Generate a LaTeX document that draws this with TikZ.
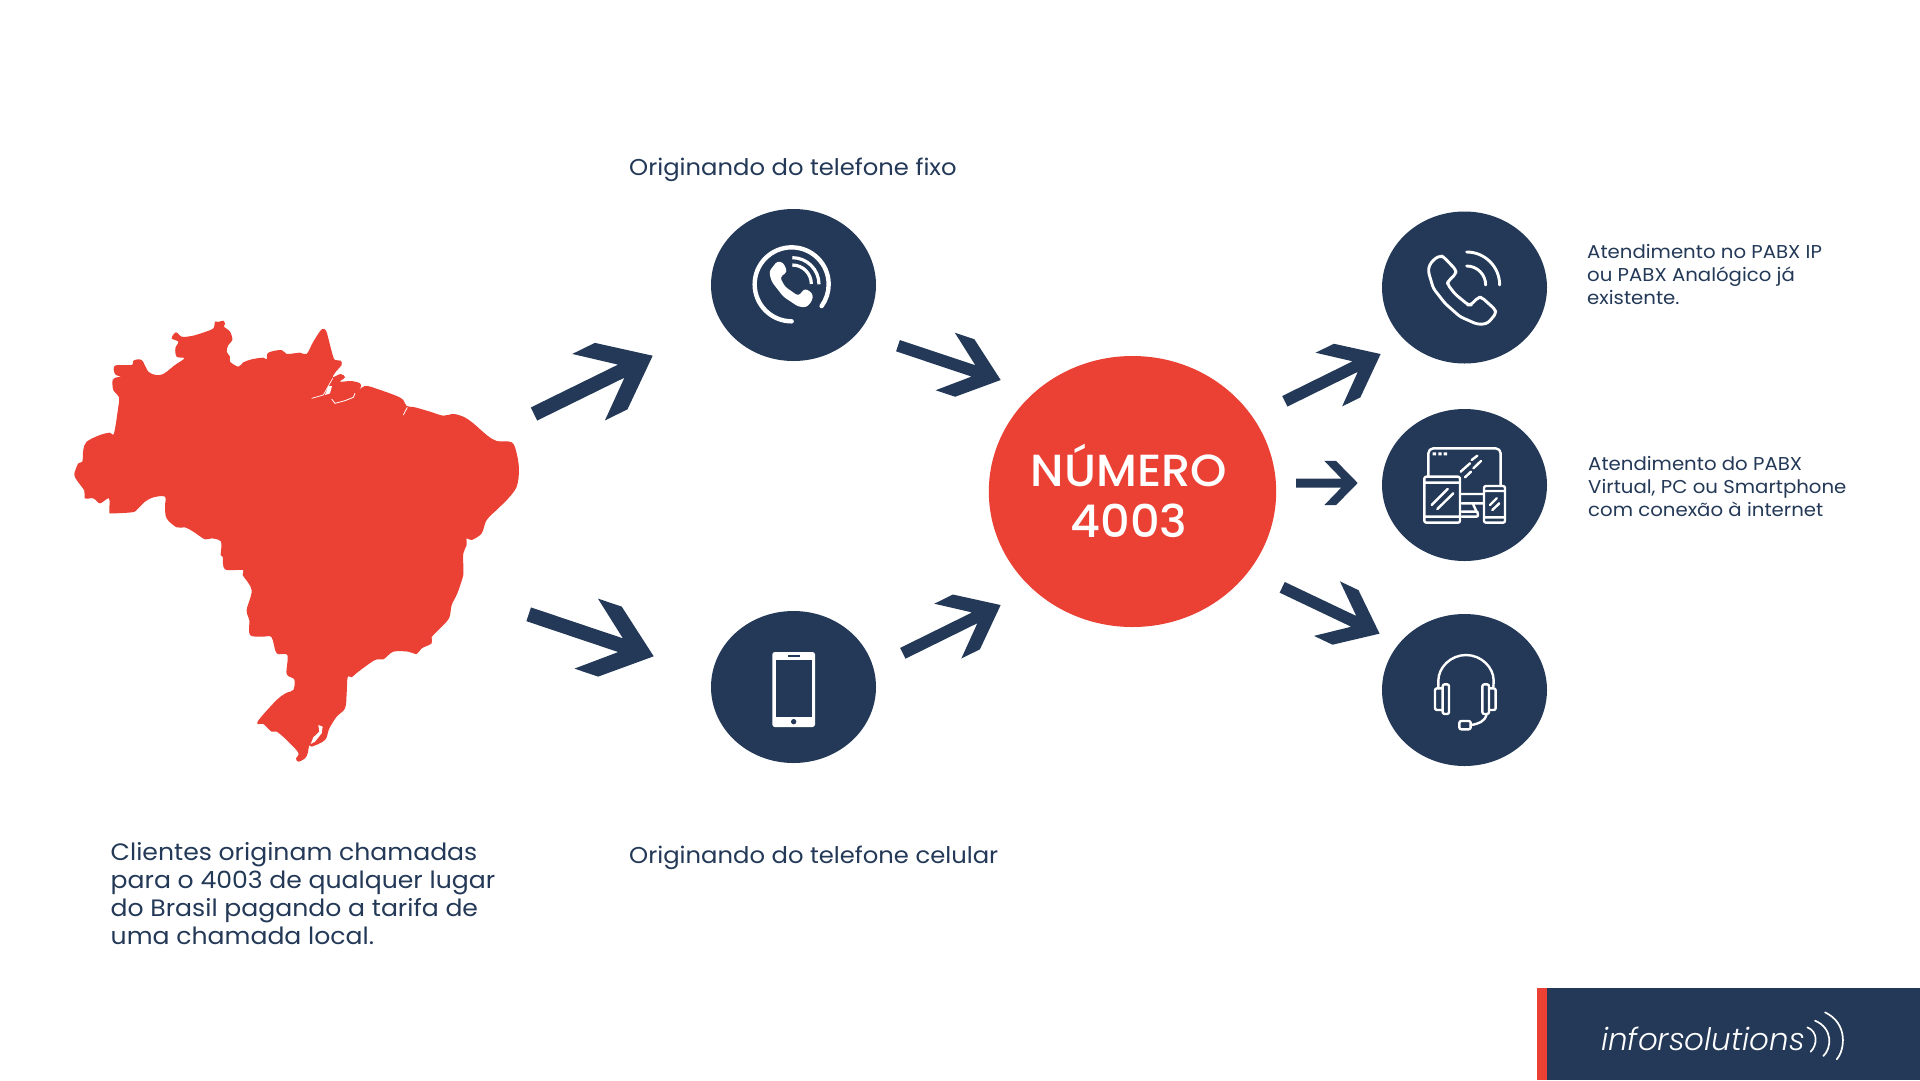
\documentclass[tikz,border=0pt]{standalone}
\usepackage{fontspec}
\setmainfont{Poppins}
\newfontfamily\logofont{Poppins Light Italic}
\newfontfamily\hubfont[FakeStretch=1.03]{Poppins Medium}
\newfontfamily\widefont[FakeStretch=1.06]{Poppins}
\usetikzlibrary{shapes.geometric,calc}
\definecolor{navy}{HTML}{233957}
\definecolor{redc}{HTML}{EB4034}
\tikzset{
  bubble/.style={ellipse,fill=navy,inner sep=0pt,minimum width=165pt,minimum height=152pt},
  hub/.style={ellipse,fill=redc,inner sep=0pt,minimum width=285pt,minimum height=271pt,text=white,align=center,font=\hubfont\fontsize{45}{50}\selectfont},
  label/.style={inner sep=0pt,text=navy,anchor=base west,font=\widefont\fontsize{22.9}{28}\selectfont},
  smalllabel/.style={inner sep=0pt,text=navy,align=left,anchor=north west,font=\widefont\fontsize{18.6}{23}\selectfont},
  paralabel/.style={inner sep=0pt,text=navy,align=left,anchor=north west,font=\widefont\fontsize{23.7}{27.8}\selectfont},
  zoomed/.style={x=0.33333pt,y=-0.33333pt},
  icon/.style={draw=white,line width=2.9pt,line cap=round,line join=round},
  iconb/.style={draw=white,line width=2.4pt,line cap=round,line join=round,rounded corners=2pt}
}
% big polygon arrow drawn between two named coordinates
\newcommand\bigarrow[4]{%
  \pgfpointdiff{\pgfpointanchor{#1}{center}}{\pgfpointanchor{#2}{center}}%
  \pgfgetlastxy{\ArrX}{\ArrY}%
  \pgfmathsetmacro\ArrA{atan2(\ArrY,\ArrX)}%
  \pgfmathsetmacro\ArrL{veclen(\ArrX,\ArrY)}%
  \fill[navy,shift={(#1)},rotate=\ArrA,x=\ArrL pt,y=\ArrL pt]
    (0,#4) -- (0.735,#4) -- (0.46,#3) -- (0.65,#3) -- (1,0) -- (0.65,-#3) -- (0.46,-#3) -- (0.735,-#4) -- (0,-#4) -- cycle;
}
\begin{document}
\begin{tikzpicture}[x=1pt,y=-1pt]
\useasboundingbox (0,0) rectangle (1920,1080);
\fill[white] (0,0) rectangle (1920,1080);

% Brazil
\begin{scope}[shift={(50,300)},zoomed]
\fill[redc] plot[smooth cycle,tension=0.55] coordinates {
(495,65)(505,66)(520,62)(525,72)(522,80)(540,95)(547,120)(535,135)(530,155)(540,170)(540,185)(565,200)(580,187)(605,178)(640,173)(650,178)(655,158)(695,150)(710,162)(750,158)(770,162)(790,125)(815,88)(828,92)(835,115)(848,165)(855,180)(872,182)(875,195)(860,212)(848,232)(872,222)(885,232)(870,245)(905,243)(930,250)(932,262)(915,280)(945,258)(985,268)(1040,288)(1060,300)(1070,318)(1095,322)(1140,335)(1180,347)(1210,342)(1240,350)(1270,370)(1310,405)(1340,423)(1385,427)(1400,460)(1407,510)(1400,560)(1375,595)(1345,625)(1310,660)(1295,700)(1265,720)(1250,715)(1250,735)(1240,760)(1240,800)(1240,825)(1222,880)(1205,915)(1197,955)(1165,990)(1145,1012)(1145,1030)(1115,1045)(1100,1062)(1075,1055)(1030,1055)(1000,1078)(975,1080)(925,1115)(905,1132)(893,1132)(890,1180)(885,1225)(860,1250)(838,1285)(825,1320)(785,1340)(778,1335)(773,1360)(765,1375)(745,1385)(738,1375)(745,1358)(710,1320)(680,1295)(665,1295)(640,1272)(622,1272)(630,1255)(680,1200)(710,1178)(730,1170)(733,1138)(710,1122)(712,1065)(680,1060)(665,1012)(640,1010)(600,1005)(598,960)(590,930)(605,870)(578,825)(578,810)(525,808)(518,770)(512,765)(513,725)(485,715)(465,718)(430,695)(405,682)(380,682)(350,655)(345,620)(345,590)(310,592)(285,605)(260,630)(245,637)(185,640)(178,635)(177,595)(150,610)(130,595)(105,595)(103,572)(80,540)(73,522)(85,490)(97,485)(100,450)(110,425)(150,405)(180,398)(192,400)(205,320)(207,292)(190,270)(188,240)(200,232)(212,230)(195,222)(195,197)(245,195)(250,182)(275,180)(295,215)(318,225)(340,222)(375,195)(403,175)(380,170)(376,145)(385,125)(365,115)(378,97)(395,110)(425,108)(462,97)(490,85)};
\draw[white,line width=0.7pt] (785,295)--(820,285)--(848,235);
\fill[white] (825,285)--(835,258)--(846,258)--(840,280)--cycle;
\draw[white,line width=0.8pt] (845,297)--(855,310)--(885,302)--(910,292)--(915,280);
\draw[white,line width=0.8pt] (1072,322)--(1060,345);
\draw[white,line width=0.7pt] (895,1130)--(905,1134);
\fill[white] (805,1275)--(818,1280)--(815,1300)--(795,1325)--(782,1332)--(790,1312)--(808,1295)--cycle;
\end{scope}

% bubbles
\node[bubble] (fixo) at (793.5,285) {};
\node[bubble] (cel) at (793.5,687) {};
\node[hub] (hubn) at (1132.5,491.5) {\raisebox{1pt}{NÚMERO}\hspace*{7pt}\\[1pt]\raisebox{1pt}{4003}\hspace*{7pt}};
\node[bubble] (ip) at (1464.5,287.5) {};
\node[bubble] (dev) at (1464.5,485) {};
\node[bubble] (head) at (1464.5,690) {};

% arrows
\coordinate (a1s) at (534,414); \coordinate (a1e) at (652.7,355.7);
\coordinate (a2s) at (528.7,614.3); \coordinate (a2e) at (653.7,656.3);
\coordinate (a3s) at (898,345.7); \coordinate (a3e) at (1000.7,380);
\coordinate (a4s) at (902.8,653.3); \coordinate (a4e) at (1000.7,605);
\coordinate (a5s) at (1284.8,401.3); \coordinate (a5e) at (1380.7,354);
\coordinate (a6s) at (1296,483); \coordinate (a6e) at (1357.7,483);
\coordinate (a7s) at (1282.2,587.3); \coordinate (a7e) at (1379.7,633.7);
\bigarrow{a1s}{a1e}{0.28}{0.055}
\bigarrow{a2s}{a2e}{0.28}{0.055}
\bigarrow{a3s}{a3e}{0.28}{0.055}
\bigarrow{a4s}{a4e}{0.28}{0.055}
\bigarrow{a5s}{a5e}{0.28}{0.055}
\bigarrow{a6s}{a6e}{0.357}{0.073}
\bigarrow{a7s}{a7e}{0.28}{0.055}

% icon: fixed phone
\begin{scope}[shift={(690,190)},zoomed]
\draw[white,line width=4.4pt,line cap=round] (305,394) arc[start angle=90,end angle=396,radius=111];
\fill[white,rounded corners=3pt] (262,213)--(280,218)--(292,245)--(270,262)--(285,290)--(325,318)--(345,295)--(368,310)--(368,330)--(350,352)--(325,350)--(280,320)--(245,275)--(237,245)--cycle;
\draw[white,line width=3.2pt] (307,203) arc[start angle=-90,end angle=0,radius=80];
\draw[white,line width=3.2pt] (307,225) arc[start angle=-90,end angle=0,radius=57];
\end{scope}

% icon: mobile
\begin{scope}[shift={(690,600)},zoomed]
\fill[white,rounded corners=2.5pt] (247,156) rectangle (375,381);
\fill[navy] (257,181) rectangle (366,351);
\draw[navy,line width=1.4pt] (294,168)--(330,168);
\fill[navy] (311,365) circle[radius=8];
\end{scope}

% icon: ip phone outline
\begin{scope}[shift={(1370,200)},zoomed]
\draw[icon,rounded corners=3pt] (195,175)--(213,167)--(222,172)--(258,210)--(257,222)--(235,243)--(232,252)--(255,282)--(295,315)--(302,315)--(325,292)--(335,292)--(375,328)--(378,340)--(355,368)--(340,373)--(320,372)--(270,350)--(225,310)--(190,265)--(175,215)--(178,195)--cycle;
\draw[icon] (290,156) arc[start angle=-90,end angle=0,radius=99];
\draw[icon] (290,198) arc[start angle=-90,end angle=0,radius=57];
\end{scope}

% icon: devices
\begin{scope}[shift={(1370,400)},zoomed]
\draw[iconb,rounded corners=5pt] (175,228)--(175,145)--(392,145)--(392,258);
\draw[iconb] (275,282)--(340,282) (275,310)--(340,310) (308,310)--(320,335) (275,335)--(322,335) (275,350)--(325,350)--(322,335);
\fill[white] (188,157) rectangle +(10,9) (205,157) rectangle +(10,9) (221,157) rectangle +(10,9);
\draw[iconb] (163,230) rectangle (270,368) (163,248)--(270,248) (163,350)--(270,350);
\draw[iconb] (185,315)--(233,267) (202,327)--(250,280);
\draw[iconb] (342,258) rectangle (405,368) (342,273)--(405,273) (342,352)--(405,352);
\draw[iconb] (360,315)--(380,295) (367,330)--(388,310);
\draw[iconb] (272,215)--(300,190) (305,180)--(322,167) (285,232)--(303,215) (310,205)--(333,183);
\end{scope}

% icon: headset
\begin{scope}[shift={(1370,605)},zoomed]
\draw[iconb] (205,245) -- (205,233) arc[start angle=180,end angle=360,radius=83] -- (370,245);
\draw[iconb] (218,250) -- (195,250) -- (195,315) -- (218,315);
\draw[iconb] (218,238) rectangle (237,327);
\draw[iconb] (337,238) rectangle (357,327);
\draw[iconb] (357,250) -- (377,250) -- (377,315) -- (357,315);
\draw[iconb] (350,327) .. controls (345,350) and (325,357) .. (302,360);
\draw[iconb] (268,348) rectangle (302,373);
\end{scope}

% labels
\node[label] (lfixo) at (629,175) {Originando do telefone fixo};
\node[label] (lcel) at (629,863) {Originando do telefone celular};
\node[paralabel] (lpara) at (110.5,842.5) {Clientes originam chamadas\\para o 4003 de qualquer lugar\\do Brasil pagando a tarifa de\\uma chamada local.};
\node[smalllabel] (lip) at (1587,244) {Atendimento no PABX IP\\ou PABX Analógico já\\existente.};
\node[smalllabel] (ldev) at (1588,456) {Atendimento do PABX\\Virtual, PC ou Smartphone\\com conexão à internet};

% logo bar
\fill[redc] (1537,988) rectangle (1547,1080);
\fill[navy] (1547,988) rectangle (1920,1080);
\node[inner sep=0pt,text=white,anchor=base west,font=\logofont\fontsize{31}{36}\selectfont] (logo) at (1601,1050) {inforsolutions};
\begin{scope}[shift={(1520,970)},zoomed]
\draw[white,line width=1.7pt,line cap=round] (862,172) .. controls (895,185) and (892,225) .. (872,245);
\draw[white,line width=1.7pt,line cap=round] (885,152) .. controls (940,175) and (935,235) .. (910,258);
\draw[white,line width=1.7pt,line cap=round] (915,127) .. controls (985,160) and (975,240) .. (950,268);
\end{scope}
\end{tikzpicture}
\end{document}
